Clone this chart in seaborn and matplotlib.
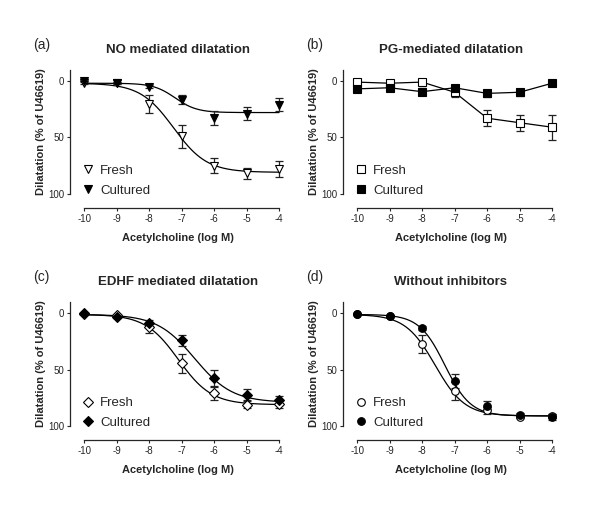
import numpy as np
import matplotlib
matplotlib.use('Agg')
import matplotlib.pyplot as plt
from matplotlib.lines import Line2D
import seaborn as sns

# Acetylcholine doses (log M)
log_dose = [-10, -9, -8, -7, -6, -5, -4]

# (a) NO mediated dilatation
no_fresh = [2, 2, 20, 49, 75, 82, 78]
no_fresh_err = [1, 1, 8, 10, 7, 5, 7]
no_cult = [0, 2, 5, 16.5, 33, 29, 21]
no_cult_err = [0, 1, 1, 4, 6, 6, 6]

# (b) PG-mediated dilatation
pg_fresh = [1, 2, 1, 10, 33, 37, 41]
pg_fresh_err = [0, 0, 0, 4, 7, 7, 11]
pg_cult = [7, 6, 9.5, 6, 11, 10, 2]
pg_cult_err = [1, 1, 3, 1, 3, 3, 1]

# (c) EDHF mediated dilatation
edhf_fresh = [0.6, 1.5, 12.5, 44.5, 71, 81, 80.7]
edhf_fresh_err = [0, 0, 5, 8, 6, 3, 3]
edhf_cult = [0, 3.5, 9, 24, 57.5, 72, 77]
edhf_cult_err = [0, 1, 3, 5, 7, 5, 4]

# (d) Without inhibitors
wo_fresh = [1, 2, 27, 69, 86, 92, 91]
wo_fresh_err = [0, 0, 8, 8, 3, 1, 2]
wo_cult = [1, 2, 13, 60, 82, 90, 92]
wo_cult_err = [0, 0, 2, 6, 4, 2, 3]

# sigmoid fit parameters: bottom, top, logEC50, hill
no_fresh_fit = [2, 81, -7.25, 0.85]
no_cult_fit = [2, 28, -7.2, 1.3]
edhf_fresh_fit = [1, 81, -7.1, 0.85]
edhf_cult_fit = [1, 79, -6.6, 0.75]
wo_fresh_fit = [1, 91, -7.6, 0.95]
wo_cult_fit = [1, 91, -7.3, 1.1]

sns.set_style('ticks')
plt.rcParams['font.family'] = ['Liberation Sans', 'DejaVu Sans']
plt.rcParams['axes.unicode_minus'] = False


def sigmoid(x, p):
    bottom, top, ec50, hill = p
    return bottom + (top - bottom) / (1 + 10 ** ((ec50 - x) * hill))


def draw_panel(ax, letter, title, fresh, fresh_err, cult, cult_err,
               marker, fresh_fit=None, cult_fit=None):
    xs = np.linspace(-10, -4, 200)
    if fresh_fit is not None:
        sns.lineplot(x=xs, y=sigmoid(xs, fresh_fit), ax=ax, color='black', lw=0.9)
        sns.lineplot(x=xs, y=sigmoid(xs, cult_fit), ax=ax, color='black', lw=0.9)
    else:
        sns.lineplot(x=log_dose, y=fresh, ax=ax, color='black', lw=0.9)
        sns.lineplot(x=log_dose, y=cult, ax=ax, color='black', lw=0.9)

    ax.errorbar(log_dose, fresh, yerr=fresh_err, fmt='none', ecolor='#222222',
                elinewidth=0.9, capsize=3, capthick=0.9, zorder=3)
    ax.errorbar(log_dose, cult, yerr=cult_err, fmt='none', ecolor='#222222',
                elinewidth=0.9, capsize=3, capthick=0.9, zorder=3)
    ax.plot(log_dose, fresh, ls='none', marker=marker, ms=5.5, mfc='white',
            mec='black', mew=0.8, zorder=4)
    ax.plot(log_dose, cult, ls='none', marker=marker, ms=5.5, mfc='black',
            mec='black', mew=0.8, zorder=5)

    ax.set_xlim(-10.43, -3.8)
    ax.set_ylim(100, -10)
    ax.set_xticks(log_dose)
    ax.set_yticks([0, 50, 100])
    sns.despine(ax=ax)
    ax.spines['bottom'].set_position(('outward', 10))
    ax.spines['bottom'].set_bounds(-10, -4)
    for s in ['left', 'bottom']:
        ax.spines[s].set_linewidth(0.9)
    ax.tick_params(labelsize=7, length=2.5, width=0.8, pad=2)

    ax.set_title(title, fontsize=9.5, fontweight='bold', pad=12)
    ax.set_xlabel('Acetylcholine (log M)', fontsize=8, fontweight='bold', labelpad=6.5)
    ax.set_ylabel('Dilatation (% of U46619)', fontsize=8, fontweight='bold', labelpad=1.5)
    ax.text(-0.172, 1.20, letter, transform=ax.transAxes, fontsize=10,
            ha='left', va='center')

    handles = [
        Line2D([], [], ls='none', marker=marker, ms=5.5, mfc='white', mec='black', mew=0.8),
        Line2D([], [], ls='none', marker=marker, ms=5.5, mfc='black', mec='black', mew=0.8),
    ]
    ax.legend(handles, ['Fresh', 'Cultured'], loc='lower left', frameon=False,
              fontsize=9.5, handlelength=0.8, handletextpad=0.5, labelspacing=0.55,
              borderaxespad=0, bbox_to_anchor=(0.035, -0.065))


fig = plt.figure(figsize=(6, 5.28), dpi=100)
ax_a = fig.add_axes([0.117, 0.633, 0.359, 0.235])
ax_b = fig.add_axes([0.572, 0.633, 0.359, 0.235])
ax_c = fig.add_axes([0.117, 0.193, 0.359, 0.235])
ax_d = fig.add_axes([0.572, 0.193, 0.359, 0.235])

draw_panel(ax_a, '(a)', 'NO mediated dilatation', no_fresh, no_fresh_err,
           no_cult, no_cult_err, 'v', no_fresh_fit, no_cult_fit)
draw_panel(ax_b, '(b)', 'PG-mediated dilatation', pg_fresh, pg_fresh_err,
           pg_cult, pg_cult_err, 's')
draw_panel(ax_c, '(c)', 'EDHF mediated dilatation', edhf_fresh, edhf_fresh_err,
           edhf_cult, edhf_cult_err, 'D', edhf_fresh_fit, edhf_cult_fit)
draw_panel(ax_d, '(d)', 'Without inhibitors', wo_fresh, wo_fresh_err,
           wo_cult, wo_cult_err, 'o', wo_fresh_fit, wo_cult_fit)

fig.savefig('out.png', dpi=100)
